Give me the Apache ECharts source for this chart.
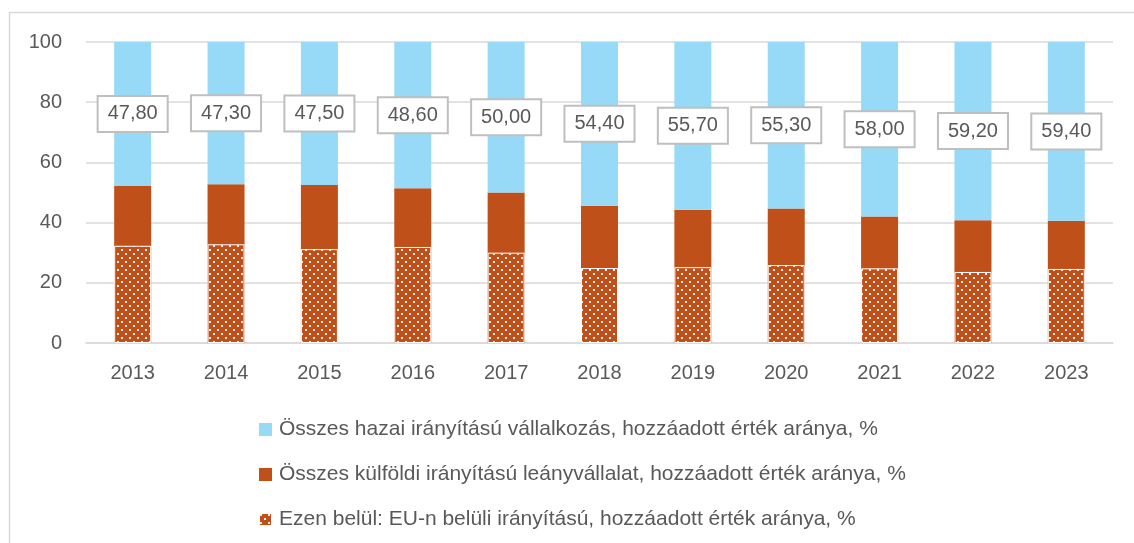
<!DOCTYPE html>
<html>
<head>
<meta charset="utf-8">
<script src="https://cdn.jsdelivr.net/npm/echarts@6/dist/echarts.min.js"></script>
<style>
  html, body { margin: 0; padding: 0; background: #fff; }
  #main { width: 1134px; height: 543px; }
</style>
</head>
<body>
<div id="main"></div>
<script>
var years = ['2013', '2014', '2015', '2016', '2017', '2018', '2019', '2020', '2021', '2022', '2023'];
// hazai irányítású (felül, címkével)
var hazai = [47.8, 47.3, 47.5, 48.6, 50.0, 54.4, 55.7, 55.3, 58.0, 59.2, 59.4];
// külföldi irányítású összesen
var kulfoldi = [52.2, 52.7, 52.5, 51.4, 50.0, 45.6, 44.3, 44.7, 42.0, 40.8, 40.6];
// ezen belül EU-n belüli
var euBelul = [32.3, 32.8, 31.2, 31.9, 30.0, 24.9, 25.2, 25.9, 24.8, 23.6, 24.6];
var yTicks = [0, 20, 40, 60, 80, 100];

var names = [
	'Összes hazai irányítású vállalkozás, hozzáadott érték aránya, %',
	'Összes külföldi irányítású leányvállalat, hozzáadott érték aránya, %',
	'Ezen belül: EU-n belüli irányítású, hozzáadott érték aránya, %'
];

var fontName = 'Liberation Sans';
var orange = '#C0501A';
var blue = '#97DAF7';

// pontozott minta
var cv = document.createElement('canvas');
cv.width = 8;
cv.height = 8;
var ctx = cv.getContext('2d');
ctx.fillStyle = orange;
ctx.fillRect(0, 0, 8, 8);
ctx.fillStyle = 'rgba(255,255,255,0.9)';
ctx.fillRect(1, 1, 2, 2);
ctx.fillRect(5, 5, 2, 2);

var myChart = echarts.init(document.getElementById('main'));

option = {
	animation: false,
	textStyle: { fontFamily: fontName },
	graphic: [{
		type: 'rect',
		shape: { x: 9.5, y: 12.5, width: 1300, height: 700 },
		style: { fill: 'none', stroke: '#d9d9d9', lineWidth: 1.5 },
		z: -1
	}],
	grid: {
		left: 86,
		right: 21,
		top: 42,
		bottom: 200
	},
	legend: {
		orient: 'vertical',
		left: 253,
		top: 414,
		height: 140,
		itemWidth: 13,
		itemHeight: 13,
		itemGap: 24,
		icon: 'rect',
		textStyle: { fontSize: 21, color: '#595959', fontFamily: fontName, padding: [0, 0, 0, 2] },
		data: names
	},
	xAxis: {
		type: 'category',
		data: years,
		axisTick: { show: false },
		axisLine: { lineStyle: { color: '#d9d9d9', width: 1.5 } },
		axisLabel: { fontSize: 20, color: '#595959', margin: 20 }
	},
	yAxis: {
		type: 'value',
		min: yTicks[0],
		max: yTicks[yTicks.length - 1],
		interval: 20,
		axisLine: { show: false },
		axisTick: { show: false },
		splitLine: { lineStyle: { color: '#d9d9d9', width: 1.5 } },
		axisLabel: { fontSize: 20, color: '#595959', margin: 24 }
	},
	series: [{
		name: names[1],
		type: 'bar',
		stack: 'total',
		barWidth: 37,
		barGap: '-100%',
		itemStyle: { color: orange },
		data: kulfoldi
	}, {
		name: names[0],
		type: 'bar',
		stack: 'total',
		barWidth: 37,
		barGap: '-100%',
		itemStyle: { color: blue },
		label: {
			show: true,
			position: 'inside',
			fontSize: 20,
			color: '#595959',
			backgroundColor: '#fff',
			borderColor: '#bfbfbf',
			borderWidth: 2,
			padding: [8, 9, 6, 9],
			formatter: function (p) {
				return p.value.toFixed(2).replace('.', ',');
			}
		},
		data: hazai
	}, {
		name: names[2],
		type: 'bar',
		stack: 'eu',
		barWidth: 37,
		barGap: '-100%',
		itemStyle: {
			color: { image: cv, repeat: 'repeat' },
			borderColor: '#fff',
			borderWidth: 1
		},
		data: euBelul
	}]
};

myChart.setOption(option);
</script>
</body>
</html>
